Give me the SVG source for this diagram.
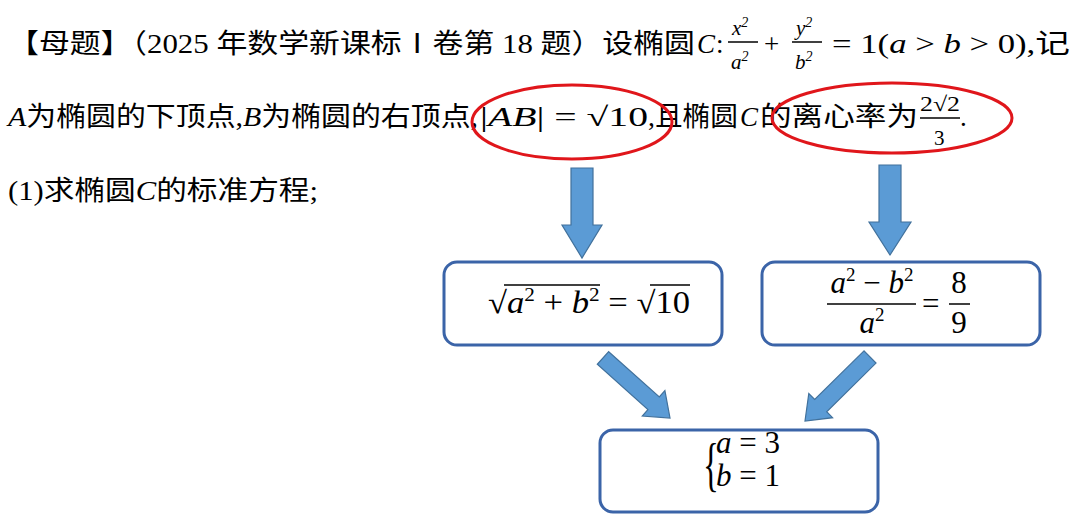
<svg xmlns="http://www.w3.org/2000/svg" width="1080" height="526" viewBox="0 0 1080 526">
<style>
.t{font-family:"Liberation Serif","Noto Sans CJK SC",serif;font-size:27px;fill:#000}
.i{font-style:italic}
.s{font-size:21px}
.m{font-family:"Liberation Serif",serif;font-size:31px;fill:#000}
.box{fill:#fff;stroke:#3b64a8;stroke-width:3}
.arr{fill:#5b9bd5;stroke:#41719c;stroke-width:1.2}
.ring{fill:none;stroke:#e0161b;stroke-width:3}
.ln{stroke:#000;stroke-width:1.5}
</style>
<rect width="1080" height="526" fill="#fff"/>
<g id="question">
<text class="t" x="8" y="53" textLength="687" lengthAdjust="spacingAndGlyphs">【母题】（2025 年数学新课标Ⅰ卷第 18 题）设椭圆</text>
<text class="t i" x="697" y="53">C</text><text class="t" x="716" y="53">:</text>
<text class="t i s" x="732" y="35">x<tspan dy="-8" style="font-size:14px">2</tspan></text>
<line class="ln" x1="728" y1="42" x2="758" y2="42"/>
<text class="t i s" x="731" y="69">a<tspan dy="-8" style="font-size:14px">2</tspan></text>
<text class="t" x="764" y="53">+</text>
<text class="t i s" x="796" y="35">y<tspan dy="-8" style="font-size:14px">2</tspan></text>
<line class="ln" x1="792" y1="42" x2="822" y2="42"/>
<text class="t i s" x="795" y="69">b<tspan dy="-8" style="font-size:14px">2</tspan></text>
<text class="t" x="832" y="53" textLength="238" lengthAdjust="spacingAndGlyphs">= 1(<tspan class="i">a</tspan> &gt; <tspan class="i">b</tspan> &gt; 0),记</text>

<text class="t" x="8" y="126" textLength="470" lengthAdjust="spacingAndGlyphs"><tspan class="i">A</tspan>为椭圆的下顶点,<tspan class="i">B</tspan>为椭圆的右顶点,</text>
<text class="t" x="480" y="126" textLength="168" lengthAdjust="spacingAndGlyphs">|<tspan class="i">AB</tspan>| = √10</text>
<text class="t" x="648" y="126" textLength="90" lengthAdjust="spacingAndGlyphs">,且椭圆</text>
<text class="t i" x="740" y="126">C</text>
<text class="t" x="760" y="126" textLength="158" lengthAdjust="spacingAndGlyphs">的离心率为</text>
<text class="t s" x="920" y="111" textLength="40" lengthAdjust="spacingAndGlyphs">2√2</text>
<line class="ln" x1="920" y1="118" x2="960" y2="118"/>
<text class="t s" x="934" y="145">3</text>
<text class="t" x="960" y="126">.</text>

<text class="t" x="8" y="200" textLength="310" lengthAdjust="spacingAndGlyphs">(1)求椭圆<tspan class="i">C</tspan>的标准方程;</text>
</g>
<g id="rings">
<ellipse class="ring" cx="572" cy="122" rx="100" ry="37"/>
<ellipse class="ring" cx="892" cy="118" rx="120" ry="35"/>
</g>
<g id="connectors">
<polygon class="arr" points="571,168 593,168 593,225 602,225 582,258 562,225 571,225"/>
<polygon class="arr" points="879,165 901,165 901,222 911,222 890,255 869,222 879,222"/>
<polygon class="arr" points="608.7,351.7 659.3,397 664.9,390.6 670,418 642.3,416 647.9,409.6 597.3,364.3"/>
<polygon class="arr" points="864,350.9 814.7,399.5 808.8,393.5 805,421 832.6,417.7 826.7,411.7 876,363.1"/>
</g>
<g id="box1">
<rect class="box" x="444" y="262" width="278" height="83" rx="13"/>
<text class="m" x="488" y="313" textLength="202" lengthAdjust="spacingAndGlyphs">√<tspan class="i">a</tspan><tspan dy="-12" style="font-size:19px">2</tspan><tspan dy="12"> + </tspan><tspan class="i">b</tspan><tspan dy="-12" style="font-size:19px">2</tspan><tspan dy="12"> = √10</tspan></text>
<line class="ln" x1="504" y1="285" x2="600" y2="285"/>
<line class="ln" x1="650" y1="285" x2="690" y2="285"/>
</g>
<g id="box2">
<rect class="box" x="762" y="262" width="278" height="83" rx="13"/>
<text class="m" x="872" y="293" text-anchor="middle"><tspan class="i">a</tspan><tspan dy="-12" style="font-size:19px">2</tspan><tspan dy="12"> − </tspan><tspan class="i">b</tspan><tspan dy="-12" style="font-size:19px">2</tspan></text>
<line class="ln" x1="827" y1="304" x2="916" y2="304"/>
<text class="m" x="872" y="333" text-anchor="middle"><tspan class="i">a</tspan><tspan dy="-12" style="font-size:19px">2</tspan></text>
<text class="m" x="922" y="314">=</text>
<text class="m" x="959" y="293" text-anchor="middle">8</text>
<line class="ln" x1="949" y1="304" x2="970" y2="304"/>
<text class="m" x="959" y="333" text-anchor="middle">9</text>
</g>
<g id="box3">
<rect class="box" x="600" y="430" width="278" height="82" rx="13"/>
<text class="m" x="0" y="0" style="font-size:60px" transform="translate(703 484) scale(0.55 1)">{</text>
<text class="m" x="716" y="453"><tspan class="i">a</tspan> = 3</text>
<text class="m" x="716" y="486"><tspan class="i">b</tspan> = 1</text>
</g>
</svg>
